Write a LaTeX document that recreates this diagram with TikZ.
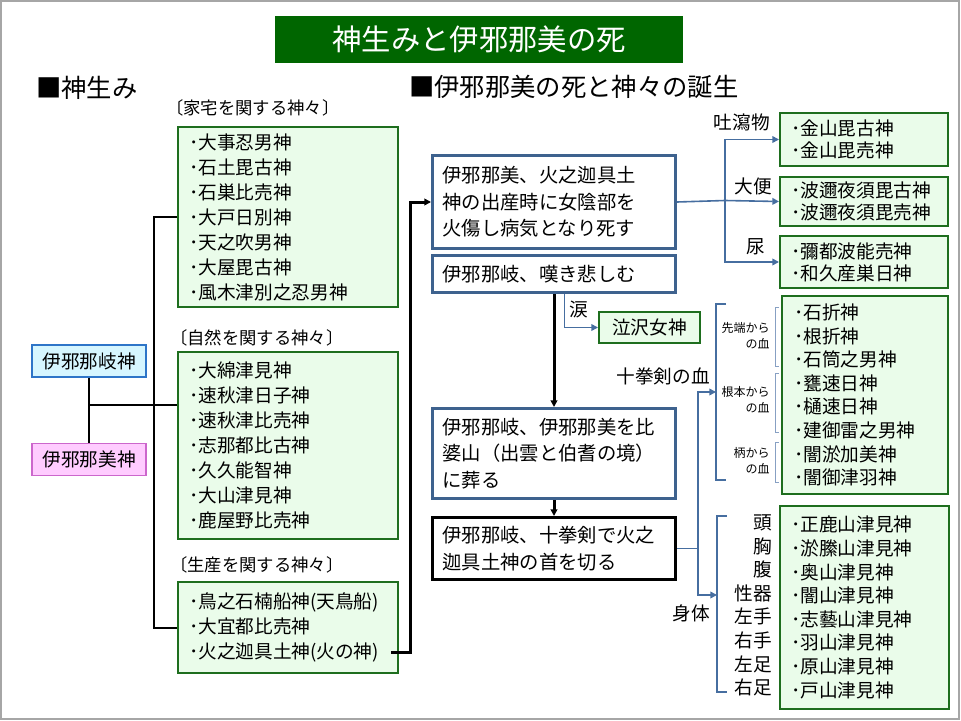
\documentclass[tikz,border=0pt]{standalone}
\usepackage{fontspec}
\setmainfont{Noto Sans CJK JP}
\usetikzlibrary{arrows.meta}
\definecolor{kamigreen}{RGB}{0,102,0}
\definecolor{listline}{RGB}{30,110,30}
\definecolor{listfill}{RGB}{234,252,234}
\definecolor{eventline}{RGB}{62,98,142}
\definecolor{flowblue}{RGB}{70,110,160}
\definecolor{bracketblue}{RGB}{135,160,195}
\definecolor{nagifill}{RGB}{214,246,255}
\definecolor{nagiline}{RGB}{46,117,200}
\definecolor{namifill}{RGB}{255,204,255}
\definecolor{namiline}{RGB}{204,102,204}
\definecolor{framegray}{RGB}{166,166,166}
\tikzset{
	> = {Triangle[length = 5pt, width = 5pt]},
	titlebox/.style = {fill = kamigreen, text = white, minimum width = 306pt, minimum height = 35.25pt, inner sep = 0pt, font = \fontsize{22pt}{26pt}\selectfont},
	heading/.style = {anchor = west, inner sep = 0pt, font = \fontsize{19pt}{22pt}\selectfont},
	group/.style = {anchor = west, inner sep = 0pt, font = \fontsize{13pt}{16pt}\selectfont},
	listbox/.style = {draw = listline, fill = listfill, line width = 1.5pt, anchor = north west, align = left, inner ysep = 0pt},
	leftlist/.style = {listbox, inner xsep = 8.25pt, text width = 148.5pt, font = \fontsize{14pt}{18.75pt}\selectfont},
	rightlist/.style = {listbox, inner xsep = 8.25pt, text width = 109.5pt, font = \fontsize{14pt}{16.5pt}\selectfont},
	godbox/.style = {draw, line width = 1pt, minimum width = 85.5pt, minimum height = 24pt, inner sep = 0pt, font = \fontsize{14pt}{16pt}\selectfont},
	eventbox/.style = {draw = eventline, line width = 2.25pt, anchor = north west, align = left, inner xsep = 7.5pt, inner ysep = 0pt, text width = 167.25pt, font = \fontsize{14.5pt}{20pt}\selectfont},
	label/.style = {inner sep = 0pt, font = \fontsize{14pt}{17.7pt}\selectfont},
	tiny/.style = {anchor = east, align = right, inner sep = 0pt, font = \fontsize{9pt}{12pt}\selectfont},
	conn/.style = {line width = 1.5pt},
	thickconn/.style = {line width = 2.25pt},
	flowconn/.style = {draw = flowblue, line width = 1.2pt},
	bigbracket/.style = {draw = flowblue, line width = 1.5pt},
	smallbracket/.style = {draw = bracketblue, line width = 0.75pt}
}
\begin{document}
\begin{tikzpicture} [x = 0.75pt, y = -0.75pt]
	\useasboundingbox (0,0) rectangle (961,721);
	\draw [framegray, line width = 1.5pt] (1,1) rectangle (959,719);
	\node [titlebox] (title) at (479,39.5) {神生みと伊邪那美の死};
	\node [heading] (kamiumi) at (36,88) {■神生み};
	\node [heading] (shitan) at (409,87) {■伊邪那美の死と神々の誕生};

	\node [group] (katakulbl) at (166,108) {〔家宅を関する神々〕};
	\node [leftlist, minimum height = 135pt] (kataku) at (177,126) {･大事忍男神\\･石土毘古神\\･石巣比売神\\･大戸日別神\\･天之吹男神\\･大屋毘古神\\･風木津別之忍男神};
	\node [group] (shizenlbl) at (170,338) {〔自然を関する神々〕};
	\node [leftlist, minimum height = 140.25pt] (shizen) at (177,351) {･大綿津見神\\･速秋津日子神\\･速秋津比売神\\･志那都比古神\\･久久能智神\\･大山津見神\\･鹿屋野比売神};
	\node [group] (seisanlbl) at (170,565) {〔生産を関する神々〕};
	\node [leftlist, minimum height = 68.25pt] (seisan) at (177,581) {･鳥之石楠船神(天鳥船)\\･大宜都比売神\\･火之迦具土神(火の神)};

	\node [godbox, draw = nagiline, fill = nagifill] (izanagi) at (89,361) {伊邪那岐神};
	\node [godbox, draw = namiline, fill = namifill] (izanami) at (89,459.5) {伊邪那美神};
	\draw [conn] (izanagi) -- (izanami);
	\coordinate (fuufu) at (89,405);
	\draw [conn] (fuufu) -- (shizen.west |- fuufu);
	\draw [conn] (kataku.west) -- ++(-23,0) |- (seisan.west);

	\node [eventbox, minimum height = 69.75pt] (shi) at (431,154) {伊邪那美、火之迦具土\\神の出産時に女陰部を\\火傷し病気となり死す};
	\node [eventbox, minimum height = 27.75pt] (nageki) at (431,254) {伊邪那岐、嘆き悲しむ};
	\node [eventbox, minimum height = 67.5pt] (hiba) at (431,407) {伊邪那岐、伊邪那美を比\\婆山（出雲と伯耆の境）\\に葬る};
	\node [eventbox, draw = black, minimum height = 46.5pt] (kiru) at (431,516) {伊邪那岐、十拳剣で火之\\迦具土神の首を切る};
	\coordinate (kagu) at (391,652);
	\draw [thickconn, ->] (kagu) -- ++(19,0) |- (shi.west);
	\draw [thickconn, ->] (nageki.south) -- (hiba.north);
	\draw [thickconn, ->] (hiba.south) -- (kiru.north);

	\node [listbox, minimum width = 75.75pt, minimum height = 23.25pt, inner sep = 0pt, font = \fontsize{14pt}{16pt}\selectfont] (nakisawa) at (598,311) {泣沢女神};
	\draw [flowconn, ->] ([xshift = 8pt] nageki.south) |- (nakisawa.west);
	\node [label] (namida) at (579,309) {涙};

	\node [rightlist, minimum height = 39.75pt] (kanayama) at (779,112) {･金山毘古神\\･金山毘売神};
	\node [rightlist, minimum height = 36.75pt] (haniyasu) at (779,176) {･波邇夜須毘古神\\･波邇夜須毘売神};
	\node [rightlist, minimum height = 39pt] (mitsuha) at (779,235) {･彌都波能売神\\･和久産巣日神};
	\coordinate (bunki) at (725,200.5);
	\draw [flowconn] (shi.east) -- (bunki);
	\draw [flowconn, ->] (bunki) |- (kanayama.west);
	\draw [flowconn, ->] (bunki) -- (haniyasu.west);
	\draw [flowconn, ->] (bunki) |- (mitsuha.west);
	\node [label, anchor = east] (toshalbl) at (770,122) {吐瀉物};
	\node [label, anchor = east] (daibenlbl) at (772,186) {大便};
	\node [label, anchor = east] (nyoulbl) at (765,247) {尿};

	\node [label] (chilbl) at (663,376) {十拳剣の血};
	\node [label] (karadalbl) at (691,613) {身体};
	\node [rightlist, inner xsep = 9pt, text width = 106.5pt, minimum height = 148.5pt, font = \fontsize{14pt}{17.7pt}\selectfont] (chi) at (781,295) {･石折神\\･根折神\\･石筒之男神\\･甕速日神\\･樋速日神\\･建御雷之男神\\･闇淤加美神\\･闇御津羽神};
	\node [rightlist, text width = 110.25pt, minimum height = 152.25pt, font = \fontsize{14pt}{17.7pt}\selectfont] (karada) at (779,505) {･正鹿山津見神\\･淤縢山津見神\\･奥山津見神\\･闇山津見神\\･志藝山津見神\\･羽山津見神\\･原山津見神\\･戸山津見神};
	\node [label, anchor = east, align = right] (bui) at (772,605.5) {頭\\胸\\腹\\性器\\左手\\右手\\左足\\右足};
	\node [tiny] (sentan) at (770,336) {先端から\\の血};
	\node [tiny] (nemoto) at (770,400) {根本から\\の血};
	\node [tiny] (tsukalbl) at (770,460.5) {柄から\\の血};

	\draw [bigbracket] (726,304) -- (716,304) -- (716,480) -- (726,480);
	\draw [bigbracket] (727,516) -- (717,516) -- (717,692) -- (727,692);
	\draw [smallbracket] (779,307) -- (775,307) -- (775,366) -- (779,366);
	\draw [smallbracket] (779,373) -- (775,373) -- (775,432) -- (779,432);
	\draw [smallbracket] (779,442) -- (775,442) -- (775,482) -- (779,482);
	\coordinate (chiend) at (716,392);
	\coordinate (karadaend) at (717,595);
	\draw [flowconn] (kiru.east) -- ++(21,0) coordinate (tsuka);
	\draw [flowconn, ->] (tsuka) |- (chiend);
	\draw [flowconn, ->] (tsuka) |- (karadaend);
\end{tikzpicture}
\end{document}
